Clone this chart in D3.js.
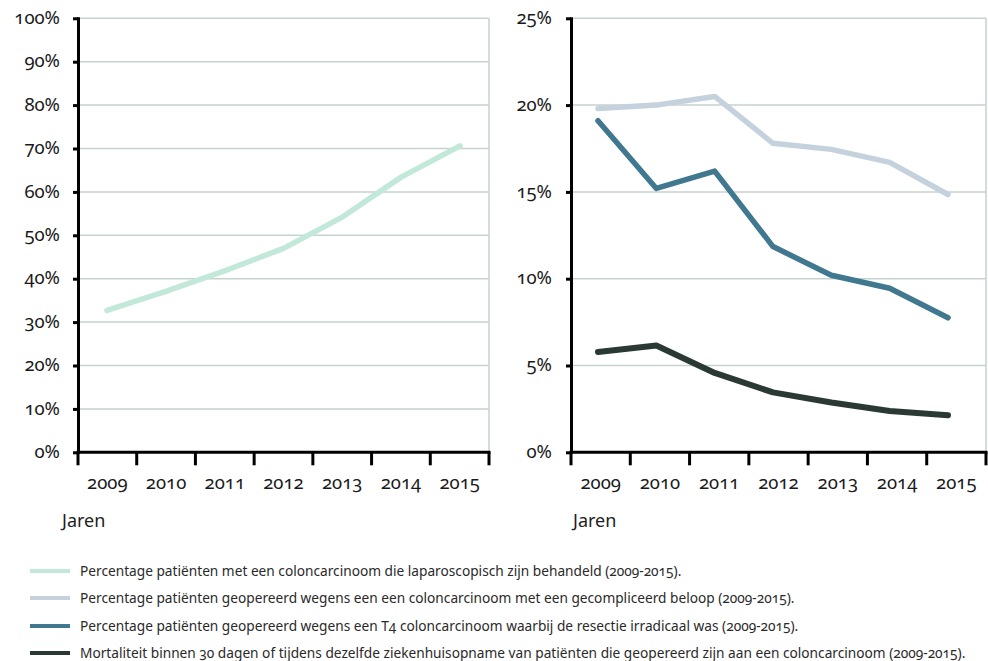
<!DOCTYPE html>
<html>
<head>
<meta charset="utf-8">
<script src="https://cdn.jsdelivr.net/npm/d3@7"></script>
<style>
  html, body { margin: 0; padding: 0; background: #fff; }
  svg { display: block; }
  .tick-label { font-family: "Noto Sans", "Open Sans", sans-serif; font-size: 18.5px; font-weight: 400; fill: #1a1a1a; font-feature-settings: "onum" 1; }
  .axis-title { font-family: "Noto Sans", "Open Sans", sans-serif; font-size: 18px; fill: #1e1e1e; }
  .legend-text { font-family: "Noto Sans", "Open Sans", sans-serif; font-size: 13.7px; fill: #2a2a2a; font-feature-settings: "onum" 1; }
</style>
</head>
<body>
<svg id="chart" width="988" height="661"></svg>
<script>
// Years on the horizontal axis of both panels
const years = ["2009", "2010", "2011", "2012", "2013", "2014", "2015"];

// Left panel: share of colon cancer patients treated laparoscopically (%)
const laparoscopisch = [32.7, 37.1, 41.8, 47.0, 54.2, 63.4, 70.6];

// Right panel series (%)
const gecompliceerd = [19.8, 20.0, 20.5, 17.8, 17.45, 16.7, 14.85];
const t4Irradicaal = [19.1, 15.2, 16.2, 11.85, 10.2, 9.45, 7.75];
const mortaliteit = [5.78, 6.15, 4.57, 3.45, 2.87, 2.38, 2.13];

// Tick values
const leftTicks = [0, 10, 20, 30, 40, 50, 60, 70, 80, 90, 100];
const rightTicks = [0, 5, 10, 15, 20, 25];

// Legend entries
const legendLabels = [
  "Percentage patiënten met een coloncarcinoom die laparoscopisch zijn behandeld (2009-2015).",
  "Percentage patiënten geopereerd wegens een een coloncarcinoom met een gecompliceerd beloop (2009-2015).",
  "Percentage patiënten geopereerd wegens een T4 coloncarcinoom waarbij de resectie irradicaal was (2009-2015).",
  "Mortaliteit binnen 30 dagen of tijdens dezelfde ziekenhuisopname van patiënten die geopereerd zijn aan een coloncarcinoom (2009-2015)."
];

const colors = {
  lap: "#c1e8d9",
  comp: "#c5d2dd",
  t4: "#40788f",
  mort: "#2b3934"
};
const legendColors = [colors.lap, colors.comp, colors.t4, colors.mort];

const svg = d3.select("#chart");
const gridColor = "#c5d3cd";

function panel(cfg) {
  const g = svg.append("g");
  const xBand = d3.scaleBand().domain(years).range([cfg.x0, cfg.x1]).padding(0);
  const xPt = d3.scalePoint().domain(years).range(cfg.pointRange);
  const y = d3.scaleLinear().domain([0, cfg.max]).range([cfg.yBottom, cfg.yTop]);

  // horizontal gridlines
  g.append("g").selectAll("line").data(cfg.ticks.filter(t => t > 0)).join("line")
    .attr("x1", cfg.x0).attr("x2", cfg.x1)
    .attr("y1", d => y(d)).attr("y2", d => y(d))
    .attr("stroke", gridColor).attr("stroke-width", 1.5);

  // right frame edge
  g.append("line")
    .attr("x1", cfg.x1).attr("x2", cfg.x1)
    .attr("y1", y(cfg.max)).attr("y2", y(0))
    .attr("stroke", gridColor).attr("stroke-width", 1.5);

  // series lines
  const line = d3.line().x((d, i) => xPt(years[i])).y(d => y(d));
  cfg.series.forEach(s => {
    g.append("path").datum(s.values)
      .attr("d", line)
      .attr("fill", "none")
      .attr("stroke", s.color)
      .attr("stroke-width", s.width)
      .attr("stroke-linejoin", "round")
      .attr("stroke-linecap", "round");
  });

  // y axis
  const yAxis = g.append("g").attr("transform", `translate(${cfg.x0},0)`)
    .call(d3.axisLeft(y).tickValues(cfg.ticks).tickFormat(d => d + "%").tickSize(5).tickPadding(cfg.yPad));
  yAxis.select(".domain").attr("stroke", "#000").attr("stroke-width", 3)
    .attr("d", `M0.5,${y(cfg.max) - 1}V${y(0) + 1.5}`);
  yAxis.selectAll(".tick line").attr("stroke", "#000").attr("stroke-width", 3);
  yAxis.selectAll(".tick text").attr("class", "tick-label").attr("font-family", null).attr("font-size", null).attr("fill", null).attr("dy", "0.28em");

  // x axis: ticks on the band boundaries, labels in the band centres
  const xAxis = g.append("g").attr("transform", `translate(0,${cfg.yBottom})`);
  xAxis.append("line").attr("x1", cfg.x0 - 1.5).attr("x2", cfg.x1 + 1.5)
    .attr("stroke", "#000").attr("stroke-width", 3);
  const bounds = years.map(d => xBand(d)).concat([cfg.x1]);
  xAxis.selectAll(".xt").data(bounds).join("line").attr("class", "xt")
    .attr("x1", d => d).attr("x2", d => d).attr("y1", 0).attr("y2", 13)
    .attr("stroke", "#000").attr("stroke-width", 3);
  xAxis.selectAll(".xl").data(years).join("text").attr("class", "tick-label xl")
    .attr("x", d => xBand(d) + xBand.bandwidth() / 2)
    .attr("y", 37).attr("text-anchor", "middle").text(d => d);

  g.append("text").attr("class", "axis-title")
    .attr("x", cfg.titleX).attr("y", 527).text("Jaren");
}

panel({
  x0: 78, x1: 489, yTop: 18.3, yBottom: 452.3, max: 100,
  pointRange: [107, 460], ticks: leftTicks, yPad: 13, titleX: 62,
  series: [{ values: laparoscopisch, color: colors.lap, width: 5.5 }]
});

panel({
  x0: 571, x1: 986, yTop: 18.3, yBottom: 452.3, max: 25,
  pointRange: [598, 948], ticks: rightTicks, yPad: 14, titleX: 573,
  series: [
    { values: gecompliceerd, color: colors.comp, width: 5.5 },
    { values: t4Irradicaal, color: colors.t4, width: 5.5 },
    { values: mortaliteit, color: colors.mort, width: 6 }
  ]
});

// legend
const legendY = [571, 598, 626, 653];
const lg = svg.append("g");
legendLabels.forEach((t, i) => {
  lg.append("rect").attr("x", 30).attr("y", legendY[i] - 2).attr("width", 40).attr("height", 4)
    .attr("fill", legendColors[i]);
  lg.append("text").attr("class", "legend-text").attr("x", 80).attr("y", legendY[i] + 4.5).text(t);
});
</script>
</body>
</html>
